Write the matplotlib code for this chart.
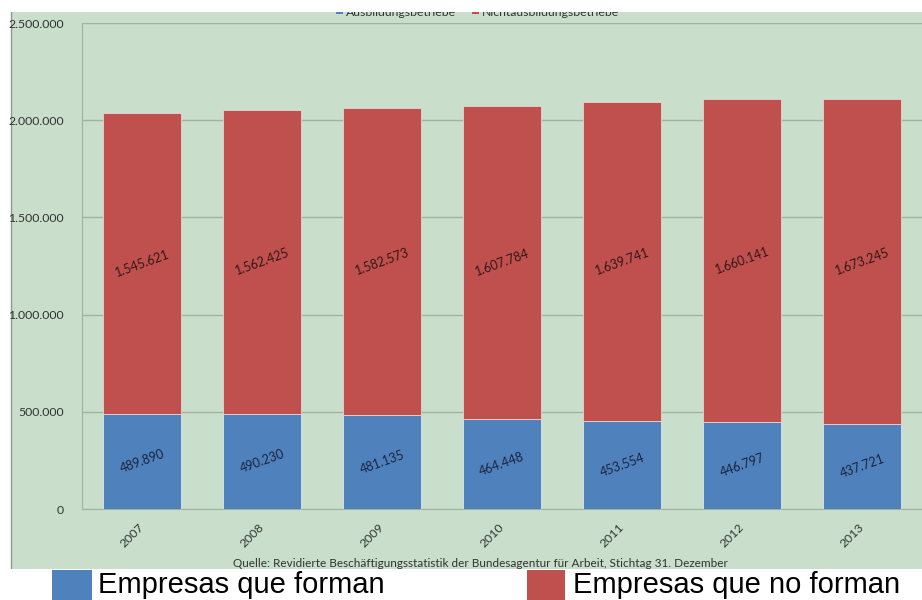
import matplotlib
matplotlib.use("Agg")
import matplotlib.pyplot as plt
from matplotlib.patches import Rectangle

# data
years = ["2007", "2008", "2009", "2010", "2011", "2012", "2013"]
forman = [489890, 490230, 481135, 464448, 453554, 446797, 437721]
no_forman = [1545621, 1562425, 1582573, 1607784, 1639741, 1660141, 1673245]
yticks = [0, 500000, 1000000, 1500000, 2000000, 2500000]


def fmt(v):
    return f"{v:,}".replace(",", ".")


BLUE = "#4F81BD"
RED = "#C0504D"
GREEN = "#C9DFCB"
W, H = 922, 600

fig = plt.figure(figsize=(9.22, 6.0), dpi=100)
fig.patch.set_facecolor("white")

# green chart area (cut off at top and bottom)
fig.patches.append(Rectangle((11 / W, (H - 569) / H), 1 - 11 / W, (569 - 12) / H,
                             transform=fig.transFigure, facecolor=GREEN,
                             edgecolor="none", zorder=-2))
fig.lines.append(plt.Line2D([11 / W, 11 / W], [(H - 569) / H, (H - 12) / H],
                            transform=fig.transFigure, color="#8C9A8D", lw=1, zorder=-1))

ax = fig.add_axes([82 / W, (H - 509) / H, 1 - 82 / W, (509 - 23) / H])
ax.patch.set_alpha(0)

x = list(range(len(years)))
ax.bar(x, forman, width=0.65, color=BLUE, edgecolor="#dfe6ee", linewidth=0.6, zorder=3)
ax.bar(x, no_forman, width=0.65, bottom=forman, color=RED, edgecolor="#e6d3d2",
       linewidth=0.6, zorder=3)

for i in x:
    ax.text(i, forman[i] / 2, fmt(forman[i]), rotation=20, ha="center", va="center",
            fontsize=9, family="Lato", color="#1a2540", zorder=4)
    ax.text(i, forman[i] + no_forman[i] / 2, fmt(no_forman[i]), rotation=20,
            ha="center", va="center", fontsize=9, family="Lato", color="#331818",
            zorder=4)

ax.set_xlim(-0.5, 6.5)
ax.set_ylim(0, 2500000)
ax.set_yticks(yticks)
ax.set_yticklabels([fmt(v) for v in yticks], fontsize=8.8, family="Lato", color="#333333")
ax.set_xticks(x)
ax.set_xticklabels(years, rotation=45, ha="right", va="center", rotation_mode="anchor",
                   fontsize=8.8, family="Lato", color="#333333")
ax.tick_params(axis="both", length=0)
ax.tick_params(axis="x", pad=12)
ax.tick_params(axis="y", pad=13)
ax.grid(axis="y", color="#9FB3A1", linewidth=1, zorder=1)
ax.set_axisbelow(True)
for s in ["top", "right"]:
    ax.spines[s].set_visible(False)
ax.spines["left"].set_color("#9FB3A1")
ax.spines["bottom"].set_color("#9FB3A1")

# original top legend, cut in half by the crop
fig.patches.append(Rectangle((336 / W, (H - 14) / H), 7 / W, 7 / H,
                             transform=fig.transFigure, facecolor=BLUE, zorder=1))
fig.text(346 / W, (H - 12) / H, "Ausbildungsbetriebe", fontsize=8.8, family="Lato",
         color="#333333", va="center", zorder=1)
fig.patches.append(Rectangle((472 / W, (H - 14) / H), 7 / W, 7 / H,
                             transform=fig.transFigure, facecolor=RED, zorder=1))
fig.text(482 / W, (H - 12) / H, "Nichtausbildungsbetriebe", fontsize=8.8, family="Lato",
         color="#333333", va="center", zorder=1)
fig.patches.append(Rectangle((0, (H - 12) / H), 1, 12 / H, transform=fig.transFigure,
                             facecolor="white", edgecolor="none", zorder=2))

# source line at the foot of the green area
fig.text(480 / W, (H - 569) / H,
         "Quelle: Revidierte Beschäftigungsstatistik der Bundesagentur für Arbeit, Stichtag 31. Dezember",
         fontsize=8.5, family="Lato", color="#333333", ha="center", va="bottom", zorder=1)
fig.patches.append(Rectangle((0, 0), 1, (H - 569) / H, transform=fig.transFigure,
                             facecolor="white", edgecolor="none", zorder=2))

# large legend at the bottom
fig.patches.append(Rectangle((52 / W, 0), 40 / W, 30 / H, transform=fig.transFigure,
                             facecolor=BLUE, edgecolor="none", zorder=3))
fig.text(98 / W, 1 / H, "Empresas que forman", fontsize=21, family="Liberation Sans",
         color="black", va="bottom", zorder=3)
fig.patches.append(Rectangle((527 / W, 0), 38 / W, 30 / H, transform=fig.transFigure,
                             facecolor=RED, edgecolor="none", zorder=3))
fig.text(573 / W, 1 / H, "Empresas que no forman", fontsize=21, family="Liberation Sans",
         color="black", va="bottom", zorder=3)

fig.savefig("out.png", dpi=100)
